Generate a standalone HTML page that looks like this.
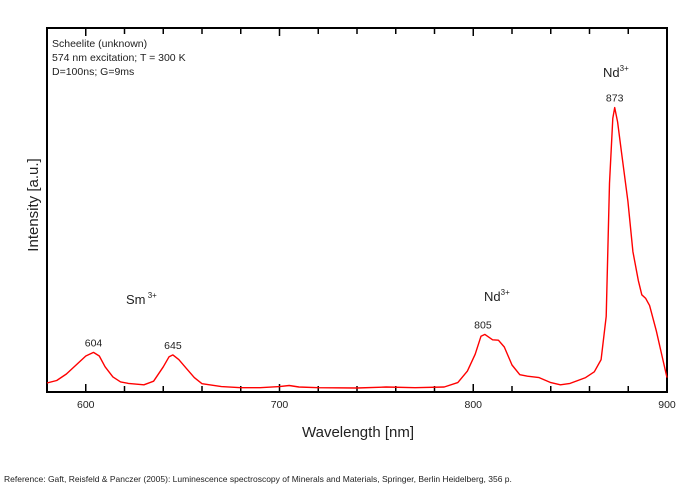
<!DOCTYPE html>
<html><head><meta charset="utf-8"><style>
body{margin:0;background:#fff;width:700px;height:489px;overflow:hidden;font-family:"Liberation Sans",Arial,sans-serif}
svg text{font-family:"Liberation Sans",Arial,sans-serif;fill:#222}
</style></head><body>
<svg id="chart" width="700" height="489">
<rect x="47" y="28" width="620" height="364" fill="none" stroke="#000" stroke-width="2"/>
<g id="ticks"></g>
<path id="series" fill="none" stroke="#f00" stroke-width="1.4" stroke-linejoin="round"/>
<text x="52" y="47" font-size="10.5">Scheelite (unknown)</text>
<text x="52" y="61" font-size="10.5">574 nm excitation; T = 300 K</text>
<text x="52" y="75" font-size="10.5">D=100ns; G=9ms</text>
<text x="126" y="304" font-size="13">Sm<tspan dy="-6" font-size="8"> 3+</tspan></text>
<text x="484" y="301" font-size="13">Nd<tspan dy="-6" font-size="8">3+</tspan></text>
<text x="603" y="77" font-size="13">Nd<tspan dy="-6" font-size="8">3+</tspan></text>
<g id="peaklabels"></g>
<text x="358" y="437" font-size="15" text-anchor="middle">Wavelength [nm]</text>
<text transform="translate(38,205) rotate(-90)" font-size="15" text-anchor="middle">Intensity [a.u.]</text>
<text x="4" y="482" font-size="8.5">Reference: Gaft, Reisfeld &amp; Panczer (2005): Luminescence spectroscopy of Minerals and Materials, Springer, Berlin Heidelberg, 356 p.</text>
</svg>
<script>
const wavelengths=[580,585,590,595,600,604,607,610,614,618,622,630,635,640,643,645,648,652,656,660,670,680,690,700,705,710,720,740,755,770,785,792,797,801,804,806,810,813,816,820,824,828,834,840,845,850,858,862.5,866,868.6,870.3,872,873,874.5,876.4,879.8,882.4,885.2,887,889,891,894.5,897,900];
const intensity=[2.5,3.2,5,7.5,10,11,10,7,4.2,2.8,2.4,2,3,7,9.8,10.3,9,6.5,4,2.3,1.5,1.2,1.2,1.5,1.8,1.4,1.2,1.1,1.4,1.2,1.4,2.6,5.8,10.5,15.5,16,14.5,14.4,12.5,7.5,4.8,4.4,4,2.6,2,2.4,4,5.6,9,21,58,76,79,75,67,53,39,31,27,26,24,17,11,4];
const xTicks=[600,700,800,900];
const peaks=[604,645,805,873];
const peakVals=[11,10.3,16,79];
const x=nm=>47+(nm-580)*620/320;
const y=v=>392-v*3.6;
const svgns="http://www.w3.org/2000/svg";
let d="";
wavelengths.forEach((w,i)=>{d+=(i?"L":"M")+x(w).toFixed(1)+","+y(intensity[i]).toFixed(1);});
document.getElementById("series").setAttribute("d",d);
const tg=document.getElementById("ticks");
for(let nm=580;nm<=900;nm+=20){
 const major=nm%100===0;
 const l=document.createElementNS(svgns,"line");
 l.setAttribute("x1",x(nm));l.setAttribute("x2",x(nm));
 l.setAttribute("y1",392);l.setAttribute("y2",392-(major?8:6));
 l.setAttribute("stroke","#000");l.setAttribute("stroke-width","1.5");
 
 
 tg.appendChild(l);
 const t=document.createElementNS(svgns,"line");
 t.setAttribute("x1",x(nm));t.setAttribute("x2",x(nm));
 t.setAttribute("y1",28);t.setAttribute("y2",28+(major?8:6));
 t.setAttribute("stroke","#000");t.setAttribute("stroke-width","1.5");
 
 
 tg.appendChild(t);
}
xTicks.forEach(v=>{
 const t=document.createElementNS(svgns,"text");
 t.setAttribute("x",x(v));t.setAttribute("y",408);
 t.setAttribute("font-size","10.5");t.setAttribute("text-anchor","middle");
 t.textContent=v;
 
 
 tg.appendChild(t);
});
const pg=document.getElementById("peaklabels");
peaks.forEach((p,i)=>{
 const t=document.createElementNS(svgns,"text");
 t.setAttribute("x",x(p));t.setAttribute("y",y(peakVals[i])-6);
 t.setAttribute("font-size","10.5");t.setAttribute("text-anchor","middle");
 t.textContent=p;
 
 
 pg.appendChild(t);
});
</script>
</body></html>
